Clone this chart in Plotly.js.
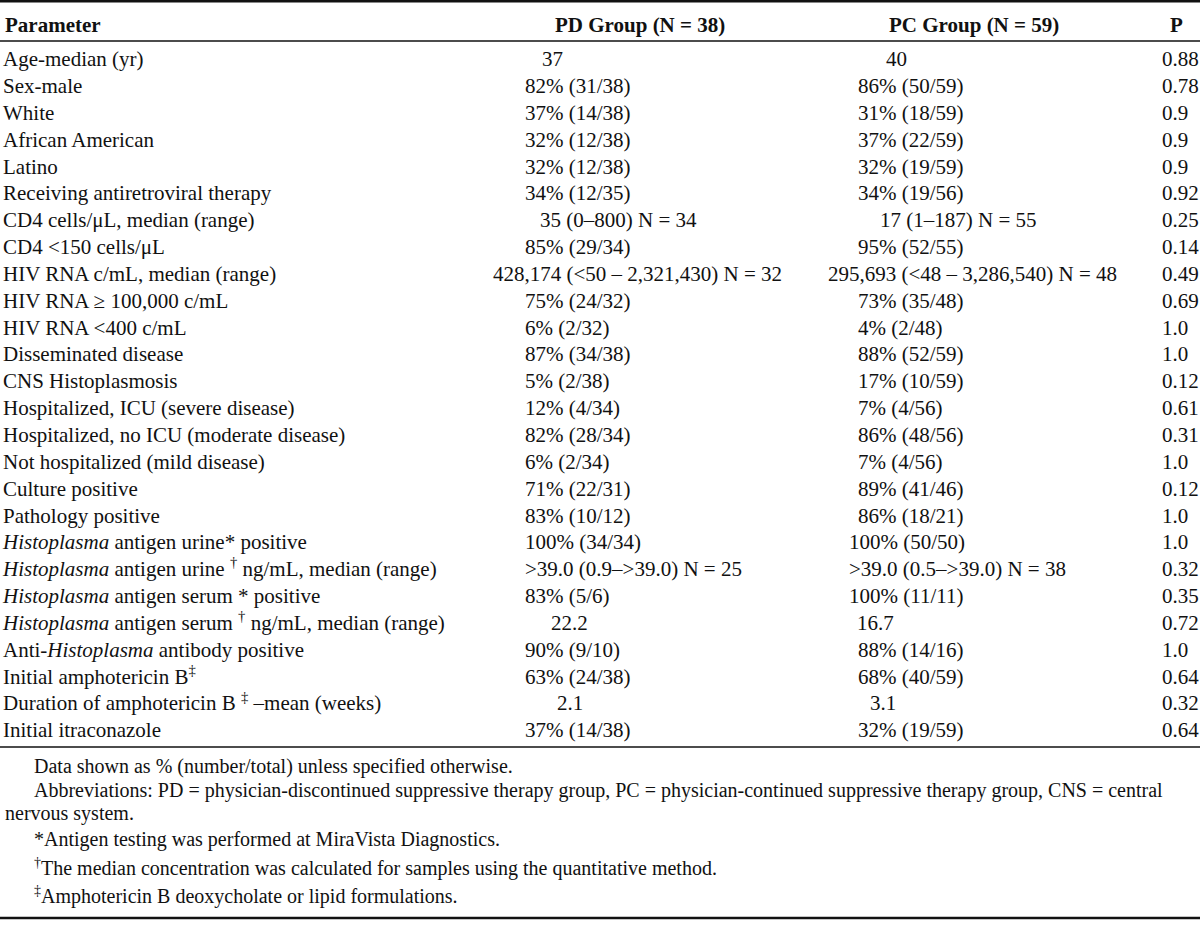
<!DOCTYPE html>
<html><head><meta charset="utf-8">
<script src="https://cdn.plot.ly/plotly-3.0.1.min.js"></script>
<style>html,body{margin:0;padding:0;background:#fff;overflow:hidden}#chart{width:1200px;height:949px}</style>
</head><body><div id="chart"></div>
<script>
// ---------- DATA ----------
const headers = ["Parameter", "PD Group (N = 38)", "PC Group (N = 59)", "P"];

const parameters = [
  "Age-median (yr)",
  "Sex-male",
  "White",
  "African American",
  "Latino",
  "Receiving antiretroviral therapy",
  "CD4 cells/μL, median (range)",
  "CD4 <150 cells/μL",
  "HIV RNA c/mL, median (range)",
  "HIV RNA ≥ 100,000 c/mL",
  "HIV RNA <400 c/mL",
  "Disseminated disease",
  "CNS Histoplasmosis",
  "Hospitalized, ICU (severe disease)",
  "Hospitalized, no ICU (moderate disease)",
  "Not hospitalized (mild disease)",
  "Culture positive",
  "Pathology positive",
  "<i>Histoplasma</i> antigen urine* positive",
  "<i>Histoplasma</i> antigen urine <sup>†</sup> ng/mL, median (range)",
  "<i>Histoplasma</i> antigen serum * positive",
  "<i>Histoplasma</i> antigen serum <sup>†</sup> ng/mL, median (range)",
  "Anti-<i>Histoplasma</i> antibody positive",
  "Initial amphotericin B<sup>‡</sup>",
  "Duration of amphotericin B <sup>‡</sup> –mean (weeks)",
  "Initial itraconazole"
];

const pdGroup = [
  "37", "82% (31/38)", "37% (14/38)", "32% (12/38)", "32% (12/38)", "34% (12/35)",
  "35 (0–800) N = 34", "85% (29/34)", "428,174 (<50 – 2,321,430) N = 32",
  "75% (24/32)", "6% (2/32)", "87% (34/38)", "5% (2/38)", "12% (4/34)",
  "82% (28/34)", "6% (2/34)", "71% (22/31)", "83% (10/12)", "100% (34/34)",
  ">39.0 (0.9–>39.0) N = 25", "83% (5/6)", "22.2", "90% (9/10)", "63% (24/38)",
  "2.1", "37% (14/38)"
];

const pcGroup = [
  "40", "86% (50/59)", "31% (18/59)", "37% (22/59)", "32% (19/59)", "34% (19/56)",
  "17 (1–187) N = 55", "95% (52/55)", "295,693 (<48 – 3,286,540) N = 48",
  "73% (35/48)", "4% (2/48)", "88% (52/59)", "17% (10/59)", "7% (4/56)",
  "86% (48/56)", "7% (4/56)", "89% (41/46)", "86% (18/21)", "100% (50/50)",
  ">39.0 (0.5–>39.0) N = 38", "100% (11/11)", "16.7", "88% (14/16)", "68% (40/59)",
  "3.1", "32% (19/59)"
];

const pValues = [
  "0.88", "0.78", "0.9", "0.9", "0.9", "0.92", "0.25", "0.14", "0.49", "0.69",
  "1.0", "1.0", "0.12", "0.61", "0.31", "1.0", "0.12", "1.0", "1.0", "0.32",
  "0.35", "0.72", "1.0", "0.64", "0.32", "0.64"
];

const footnotes = [
  "Data shown as % (number/total) unless specified otherwise.",
  "Abbreviations: PD = physician-discontinued suppressive therapy group, PC = physician-continued suppressive therapy group, CNS = central",
  "nervous system.",
  "*Antigen testing was performed at MiraVista Diagnostics.",
  "<sup>†</sup>The median concentration was calculated for samples using the quantitative method.",
  "<sup>‡</sup>Amphotericin B deoxycholate or lipid formulations."
];

// ---------- LAYOUT / STYLE (not data) ----------
const W = 1200, H = 949;
const FS = 21, FOOT_FS = 20;
const FONT = "Liberation Serif, Times New Roman, serif";
const INK = "#111";
const firstRowCenter = 61, rowPitch = 26.84;
const colLeft = {param: 3, pd: 525, pc: 858, p: 1162};
// typeset indents of individual cells, in px, relative to each column's left edge
const pdIndent = [17,0,0,0,0,0,15,0,-32,0,0,0,0,0,0,0,0,0,0,0,0,26,0,0,32,0];
const pcIndent = [28,0,0,0,0,0,22,0,-30,0,0,0,0,0,0,0,0,0,-9,-9,-9,-1,0,0,12,0];
const headerCenters = [null, 640, 974, 1176];
const headerBaseline = 32;
const footX = [32, 32, 3, 32, 32, 32];
const footBaselines = [773, 797, 820, 846, 874, 902];
const rules = [{y: 1.2, w: 2.4}, {y: 41, w: 1.5}, {y: 747, w: 1.5}, {y: 918, w: 2.4}];

// ---------- HELPERS ----------
const esc = s => s.replace(/<(?=\d)/g, "&lt;").replace(/>(?=\d)/g, "&gt;");
const rows = parameters.map((_, i) => i);
const font = {family: FONT, size: FS, color: INK};
const py = px => 1 - px / H;

function textTrace(xs, texts) {
  return {
    type: "scatter", mode: "text", x: xs, y: rows,
    text: texts.map(esc), textposition: "middle right", textfont: font,
    hoverinfo: "skip", showlegend: false, cliponaxis: false
  };
}

const traces = [
  textTrace(rows.map(() => colLeft.param), parameters),
  textTrace(rows.map(i => colLeft.pd + pdIndent[i]), pdGroup),
  textTrace(rows.map(i => colLeft.pc + pcIndent[i]), pcGroup),
  textTrace(rows.map(() => colLeft.p), pValues)
];

const annotations = [];
headers.forEach((h, i) => {
  annotations.push({
    xref: "paper", yref: "paper",
    x: i === 0 ? colLeft.param / W : headerCenters[i] / W,
    xanchor: i === 0 ? "left" : "center",
    y: py(headerBaseline - 0.33 * FS), yanchor: "middle",
    text: "<b>" + h + "</b>", showarrow: false,
    font: {family: FONT, size: FS, color: INK}
  });
});
footnotes.forEach((t, i) => {
  annotations.push({
    xref: "paper", yref: "paper",
    x: footX[i] / W, xanchor: "left",
    y: py(footBaselines[i] - 0.33 * FOOT_FS), yanchor: "middle",
    text: t, showarrow: false, align: "left",
    font: {family: FONT, size: FOOT_FS, color: INK}
  });
});

const shapes = rules.map(r => ({
  type: "line", xref: "paper", yref: "paper",
  x0: 0, x1: 1, y0: py(r.y), y1: py(r.y),
  line: {color: INK, width: r.w}
}));

const layout = {
  width: W, height: H,
  margin: {l: 0, r: 0, t: 0, b: 0, pad: 0},
  paper_bgcolor: "#fff", plot_bgcolor: "#fff",
  xaxis: {visible: false, range: [0, W], fixedrange: true},
  yaxis: {visible: false, fixedrange: true,
          range: [(H - firstRowCenter) / rowPitch, -firstRowCenter / rowPitch]},
  annotations: annotations, shapes: shapes, showlegend: false
};

Plotly.newPlot("chart", traces, layout, {staticPlot: true, displayModeBar: false});
</script>
</body></html>
